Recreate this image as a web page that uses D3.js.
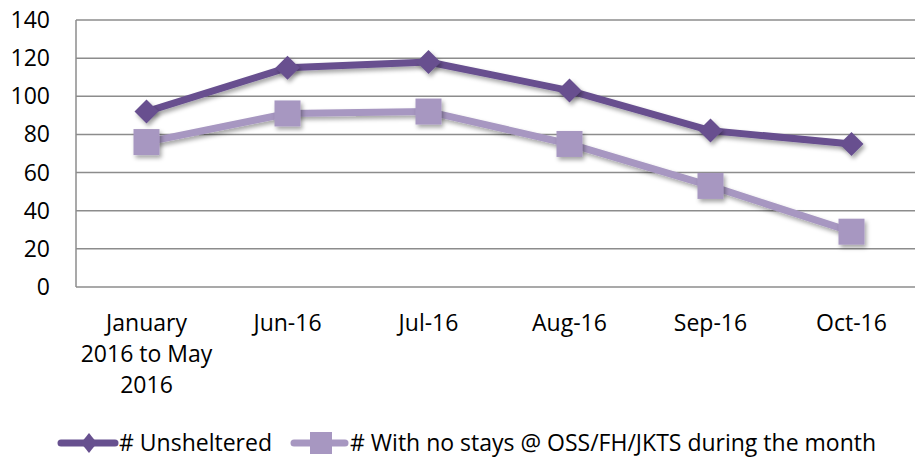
<!DOCTYPE html>
<html>
<head>
<style>
  body { margin: 0; background: #fff; }
  svg text { font-family: "Open Sans", "Noto Sans", sans-serif; fill: #000; }
</style>
</head>
<body>
<div class="chart"></div>
<script src="https://cdnjs.cloudflare.com/ajax/libs/d3/7.8.5/d3.min.js"></script>
<script>
var categories = [["January", "2016 to May", "2016"], ["Jun-16"], ["Jul-16"], ["Aug-16"], ["Sep-16"], ["Oct-16"]];
var unsheltered = [92, 115, 118, 103, 82, 75];
var noStays = [76, 91, 92, 75, 53, 29];
var yTicks = [0, 20, 40, 60, 80, 100, 120, 140];
var seriesNames = ["# Unsheltered", "# With no stays @ OSS/FH/JKTS during the month"];

var W = 915, H = 458;
var plotLeft = 76, plotTop = 20, plotBottom = 287, plotRight = 922;
var fs = "23px";

var svg = d3.select(".chart").append("svg")
  .attr("width", W).attr("height", H);

var defs = svg.append("defs");
var f = defs.append("filter").attr("id", "shadow")
  .attr("x", "-50%").attr("y", "-50%").attr("width", "200%").attr("height", "200%");
f.append("feDropShadow").attr("dx", 2).attr("dy", 3).attr("stdDeviation", 2)
  .attr("flood-color", "#000").attr("flood-opacity", 0.35);

var x = d3.scaleBand().domain(d3.range(categories.length)).range([plotLeft, plotRight]);
var y = d3.scaleLinear().domain([0, 140]).range([plotBottom, plotTop]);

// gridlines
svg.append("g").selectAll("line").data(yTicks).enter().append("line")
  .attr("x1", plotLeft).attr("x2", W)
  .attr("y1", function(d) { return y(d); }).attr("y2", function(d) { return y(d); })
  .attr("stroke", "#8c8c8c").attr("stroke-width", 1.5);

// y axis line
svg.append("line").attr("x1", plotLeft).attr("x2", plotLeft).attr("y1", plotTop).attr("y2", plotBottom)
  .attr("stroke", "#8c8c8c").attr("stroke-width", 1.5);

// y labels
svg.append("g").selectAll("text").data(yTicks).enter().append("text")
  .attr("x", 50).attr("y", function(d) { return y(d); })
  .attr("dy", "0.35em").attr("text-anchor", "end")
  .style("font-size", fs)
  .text(function(d) { return d; });

// x labels
var xl = svg.append("g").selectAll("text").data(categories).enter().append("text")
  .attr("text-anchor", "middle")
  .style("font-size", fs);
xl.each(function(lines, i) {
  var t = d3.select(this);
  lines.forEach(function(s, j) {
    t.append("tspan").attr("x", x(i) + x.bandwidth() / 2).attr("y", 331 + j * 31).text(s);
  });
});

var cx = function(d, i) { return x(i) + x.bandwidth() / 2; };
var line = d3.line().x(function(d, i) { return cx(d, i); }).y(function(d) { return y(d); });

var darkC = "#67508f", lightC = "#a797c1";

function drawSeries(data, color, shape) {
  var g = svg.append("g");
  g.append("path").datum(data).attr("d", line)
    .attr("fill", "none").attr("stroke", color).attr("stroke-width", 7)
    .attr("stroke-linejoin", "round").attr("filter", "url(#shadow)");
  g.selectAll(".m").data(data).enter().append("path")
    .attr("d", shape)
    .attr("transform", function(d, i) { return "translate(" + cx(d, i) + "," + y(d) + ")"; })
    .attr("fill", color).attr("filter", "url(#shadow)");
}

var diamond = "M0,-12L12,0L0,12L-12,0Z";
var square = "M-13,-13H13V13H-13Z";
drawSeries(noStays, lightC, square);
drawSeries(unsheltered, darkC, diamond);

// legend
var lg = svg.append("g");
lg.append("line").attr("x1", 61).attr("x2", 115).attr("y1", 443).attr("y2", 443)
  .attr("stroke", darkC).attr("stroke-width", 7).attr("stroke-linecap", "round");
lg.append("path").attr("d", "M0,-10L8,0L0,10L-8,0Z").attr("transform", "translate(89,443)").attr("fill", darkC);
lg.append("text").attr("x", 119).attr("y", 443).attr("dy", "0.35em").style("font-size", fs).text(seriesNames[0]);
lg.append("line").attr("x1", 294).attr("x2", 345).attr("y1", 443).attr("y2", 443)
  .attr("stroke", lightC).attr("stroke-width", 7).attr("stroke-linecap", "round");
lg.append("rect").attr("x", 310).attr("y", 432).attr("width", 22).attr("height", 22).attr("fill", lightC);
lg.append("text").attr("x", 350).attr("y", 443).attr("dy", "0.35em").style("font-size", fs).text(seriesNames[1]);
</script>
</body>
</html>
